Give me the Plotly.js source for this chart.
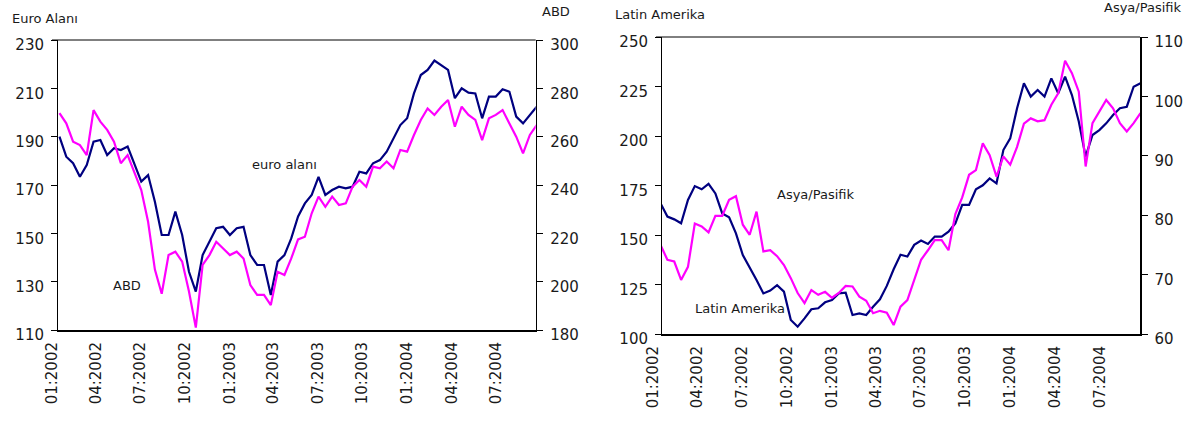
<!DOCTYPE html>
<html>
<head>
<meta charset="utf-8">
<script src="https://cdn.plot.ly/plotly-3.0.1.min.js"></script>
<style>html,body{margin:0;padding:0;background:#fff}#chart{width:1202px;height:425px}</style>
</head>
<body>
<div id="chart"></div>
<script>
// Biweekly observations, Jan 2002 - Sep 2004
const dates = [
 '2002-01-16','2002-01-30','2002-02-13','2002-02-27','2002-03-13','2002-03-27','2002-04-10','2002-04-24','2002-05-08','2002-05-22',
 '2002-06-05','2002-06-19','2002-07-03','2002-07-17','2002-07-31','2002-08-14','2002-08-28','2002-09-11','2002-09-25','2002-10-09',
 '2002-10-23','2002-11-06','2002-11-20','2002-12-04','2002-12-18',
 '2003-01-01','2003-01-15','2003-01-29','2003-02-12','2003-02-26','2003-03-12','2003-03-26','2003-04-09','2003-04-23','2003-05-07',
 '2003-05-21','2003-06-04','2003-06-18','2003-07-02','2003-07-16','2003-07-30','2003-08-13','2003-08-27','2003-09-10','2003-09-24',
 '2003-10-08','2003-10-22','2003-11-05','2003-11-19','2003-12-03','2003-12-17','2003-12-31',
 '2004-01-14','2004-01-28','2004-02-11','2004-02-25','2004-03-10','2004-03-24','2004-04-07','2004-04-21','2004-05-05','2004-05-19',
 '2004-06-02','2004-06-16','2004-06-30','2004-07-14','2004-07-28','2004-08-11','2004-08-25','2004-09-08','2004-09-22'
];

// Left panel: Euro Alanı (left axis) and ABD (right axis)
const euroAlani = [
 190.0,181.7,179.0,173.4,178.3,187.9,188.6,182.4,185.2,184.5,
 185.9,179.0,171.4,174.1,163.1,149.3,149.3,159.0,149.3,134.1,
 125.9,141.0,146.5,152.1,152.7,149.3,152.1,152.7,141.0,136.9,
 136.9,124.5,138.3,141.0,147.9,157.0,162.4,165.9,173.4,165.9,
 167.9,169.3,168.6,169.3,175.5,174.8,179.0,180.3,183.8,189.3,
 194.8,197.6,207.9,215.5,217.6,221.5,219.7,217.6,205.9,210.0,
 208.2,207.9,197.6,206.6,206.6,209.6,208.6,198.3,195.5,199.0,202.4
];
const abd = [
 269.7,265.5,257.9,256.5,252.4,271.0,266.2,262.8,257.9,249.0,
 252.4,244.8,237.9,224.8,205.0,195.0,211.0,212.4,208.3,195.9,
 181.0,206.9,211.0,216.5,213.8,211.0,212.4,209.6,198.6,194.5,
 194.5,190.3,204.1,202.8,209.6,217.5,218.6,228.3,235.2,231.0,
 235.2,231.7,232.4,239.3,242.1,239.3,247.6,246.9,249.7,246.9,
 254.5,253.8,260.7,266.9,271.7,269.0,272.4,275.2,264.1,272.4,
 269.0,266.9,258.6,267.6,269.0,271.0,265.5,260.0,253.1,260.7,264.8
];

// Right panel: Latin Amerika (left axis) and Asya/Pasifik (right axis)
const latinAmerika = [
 166.0,159.3,157.9,155.9,167.7,174.7,173.1,175.8,171.0,160.9,
 158.9,150.8,139.9,133.7,127.3,120.5,121.9,124.7,121.4,107.1,
 103.7,107.9,112.5,113.0,116.0,117.2,120.5,120.9,109.6,110.4,
 109.6,113.8,117.5,124.3,132.7,140.0,139.1,145.0,147.2,145.5,
 149.2,149.2,151.7,155.9,165.2,165.2,173.1,175.1,178.6,176.1,
 192.9,198.8,214.0,226.6,219.9,223.2,219.9,229.1,221.6,230.0,
 220.7,207.3,189.6,200.5,203.0,206.4,210.6,214.0,214.8,224.9,226.6
];
const asyaPasifik = [
 75.0,72.5,72.2,69.1,71.3,78.6,78.1,77.1,79.9,79.9,
 82.6,83.2,78.4,76.7,80.6,73.9,74.1,73.1,71.6,69.4,
 66.9,65.2,67.4,66.6,67.1,66.1,66.9,68.1,68.0,66.3,
 65.6,63.5,63.9,63.6,61.5,64.6,65.7,69.0,72.5,74.1,
 75.8,75.8,74.1,80.2,83.0,86.8,87.6,92.1,90.1,86.5,
 89.9,88.5,91.5,95.4,96.3,95.8,96.0,98.6,100.5,106.0,
 103.9,100.8,88.2,95.5,97.4,99.4,98.0,95.5,94.1,95.5,97.2
];

// Quarter labels (Excel-style category labels sit slightly left of the first observation)
const quarterTicks = ['2002-01-21','2002-04-21','2002-07-21','2002-10-21','2003-01-21','2003-04-21',
                      '2003-07-21','2003-10-21','2004-01-21','2004-04-21','2004-07-21'];
const quarterLabels = ['01:2002','04:2002','07:2002','10:2002','01:2003','04:2003',
                       '07:2003','10:2003','01:2004','04:2004','07:2004'];

const NAVY = '#000080', MAGENTA = '#ff00ff';
const FONT = 'DejaVu Sans, Verdana, sans-serif';
const TXT = '#1a1a1a';

const traces = [
  {x: dates, y: abd, xaxis: 'x', yaxis: 'y2', type: 'scatter', mode: 'lines', name: 'ABD',
   line: {color: MAGENTA, width: 2.2}},
  {x: dates, y: euroAlani, xaxis: 'x', yaxis: 'y', type: 'scatter', mode: 'lines', name: 'Euro Alanı',
   line: {color: NAVY, width: 2.2}},
  {x: dates, y: asyaPasifik, xaxis: 'x2', yaxis: 'y4', type: 'scatter', mode: 'lines', name: 'Asya/Pasifik',
   line: {color: MAGENTA, width: 2.2}},
  {x: dates, y: latinAmerika, xaxis: 'x2', yaxis: 'y3', type: 'scatter', mode: 'lines', name: 'Latin Amerika',
   line: {color: NAVY, width: 2.2}}
];

const tickFont = {family: FONT, size: 15, color: TXT};
function xAxis(domain, anchor, range) {
  return {domain, anchor, type: 'date', range,
    tickmode: 'array', tickvals: quarterTicks, ticktext: quarterLabels, tickangle: -90,
    ticks: '', showgrid: false, zeroline: false, showline: true, linecolor: '#000', linewidth: 2,
    tickfont: tickFont, ticklabelstandoff: 4, ticklabelshift: -10};
}
function yAxis(domain, anchor, range, dtick, side, overlaying) {
  const a = {domain, anchor, range, dtick, side, tick0: range[0],
    ticks: 'outside', ticklen: 6, tickwidth: 1, tickcolor: '#000',
    showgrid: false, zeroline: false, showline: true, linecolor: '#000', linewidth: side === 'right' ? 1.5 : 1,
    tickfont: tickFont, ticklabelshift: 5, ticklabelstandoff: 4, fixedrange: true};
  if (overlaying) a.overlaying = overlaying;
  return a;
}

const W = 1202, H = 425;
const px = v => v / W, py = v => 1 - v / H;
function label(text, x, y, xanchor) {
  return {text, x: px(x), y: py(y), xref: 'paper', yref: 'paper', showarrow: false,
    xanchor: xanchor || 'center', yanchor: 'middle', font: {family: FONT, size: 13, color: TXT}};
}

const layout = {
  width: W, height: H, margin: {l: 0, r: 0, t: 0, b: 0},
  paper_bgcolor: '#fff', plot_bgcolor: '#fff', showlegend: false,
  xaxis: xAxis([58 / W, 535.7 / W], 'y', ['2002-01-13', '2004-09-20']),
  yaxis: yAxis([1 - 330 / H, 1 - 40 / H], 'x', [110, 230], 20, 'left'),
  yaxis2: yAxis([1 - 330 / H, 1 - 40 / H], 'x', [180, 300], 20, 'right', 'y'),
  xaxis2: xAxis([662 / W, 1140 / W], 'y3', ['2002-01-19', '2004-09-21']),
  yaxis3: yAxis([1 - 334 / H, 1 - 37 / H], 'x2', [100, 250], 25, 'left'),
  yaxis4: yAxis([1 - 334 / H, 1 - 37 / H], 'x2', [60, 110], 10, 'right', 'y3'),
  shapes: [
    {type: 'line', xref: 'paper', yref: 'paper', x0: px(52), x1: px(535.7), y0: py(40), y1: py(40), line: {color: '#000', width: 1}},
    {type: 'line', xref: 'paper', yref: 'paper', x0: px(656), x1: px(1140), y0: py(37), y1: py(37), line: {color: '#000', width: 1}}
  ],
  annotations: [
    label('Euro Alanı', 10, 19, 'left'),
    label('ABD', 556, 12),
    label('Latin Amerika', 613, 15, 'left'),
    label('Asya/Pasifik', 1143, 8),
    label('euro alanı', 284, 165),
    label('ABD', 127, 285),
    label('Asya/Pasifik', 816, 194),
    label('Latin Amerika', 740, 308)
  ]
};

Plotly.newPlot('chart', traces, layout, {staticPlot: true, displayModeBar: false});
</script>
</body>
</html>
